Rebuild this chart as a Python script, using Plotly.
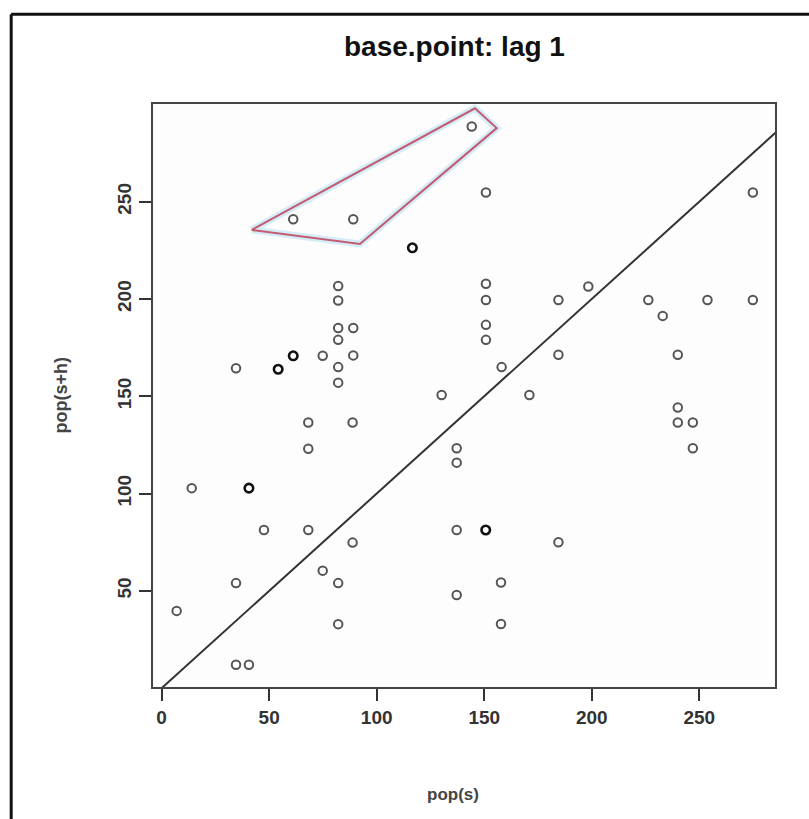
import plotly.graph_objects as go

# Data
pop_s = [144.2, 61.2, 89.1, 82.1, 82.1, 82.1, 89.1, 82.1, 74.9, 89.1,
         34.6, 82.1, 82.1, 68.2, 88.8, 130.2, 68.2, 137.2, 137.2, 14.0,
         47.6, 68.2, 137.2, 88.8, 74.9, 82.1, 34.6, 7.0, 82.1, 34.6,
         40.6, 171.0, 240.0, 240.0, 247.0, 247.0, 184.5, 157.8, 157.8, 137.2,
         150.8, 274.9, 150.8, 150.8, 184.5, 198.4, 226.3, 233.0, 253.8, 274.9,
         150.8, 150.8, 184.5, 240.0, 158.1]
pop_sh = [288.6, 241.0, 241.0, 206.7, 199.2, 185.1, 185.1, 179.0, 170.8, 171.0,
          164.4, 165.0, 157.0, 136.5, 136.5, 150.7, 123.0, 123.3, 115.9, 102.8,
          81.3, 81.3, 81.3, 74.8, 60.4, 54.0, 54.0, 39.7, 32.9, 12.0,
          12.0, 150.7, 144.2, 136.5, 136.5, 123.3, 75.0, 54.3, 33.0, 47.9,
          254.7, 254.7, 207.8, 199.5, 199.5, 206.4, 199.5, 191.3, 199.5, 199.5,
          186.7, 179.0, 171.3, 171.3, 165.0]
# darker (overplotted) points
dark_s = [116.6, 61.2, 54.2, 40.6, 150.7]
dark_sh = [226.3, 170.8, 163.9, 102.8, 81.3]

# highlighted region (polygon drawn on the picture)
poly_s = [41.9, 145.7, 155.8, 92.2, 41.9]
poly_sh = [235.5, 298.0, 287.8, 228.3, 235.5]

# identity reference line
ref_line = [-10, 300]

x_ticks = [0, 50, 100, 150, 200, 250]
y_ticks = [50, 100, 150, 200, 250]

FONT = "Liberation Sans, Arial, sans-serif"

fig = go.Figure()
fig.add_trace(go.Scatter(x=ref_line, y=ref_line, mode="lines",
                         line=dict(color="#333333", width=2), hoverinfo="skip"))
fig.add_trace(go.Scatter(x=pop_s, y=pop_sh, mode="markers",
                         marker=dict(symbol="circle-open", size=8.5,
                                     line=dict(color="#555555", width=2),
                                     color="#555555")))
fig.add_trace(go.Scatter(x=dark_s, y=dark_sh, mode="markers",
                         marker=dict(symbol="circle-open", size=8.5,
                                     line=dict(color="#111111", width=2.6),
                                     color="#111111")))
fig.add_trace(go.Scatter(x=poly_s, y=poly_sh, mode="lines",
                         line=dict(color="rgba(170,220,240,0.5)", width=7),
                         hoverinfo="skip"))
fig.add_trace(go.Scatter(x=poly_s, y=poly_sh, mode="lines",
                         line=dict(color="#c45a72", width=2), hoverinfo="skip"))

axis_font = dict(family=FONT, size=19, color="#333333", weight="bold")

fig.update_layout(
    width=809, height=819,
    margin=dict(l=153, r=34, t=104, b=132),
    paper_bgcolor="white", plot_bgcolor="#fdfdfd",
    showlegend=False,
    xaxis=dict(range=[-4.0, 285.2], tickvals=x_ticks, ticks="outside",
               ticklen=12, tickwidth=2, tickcolor="#333333",
               showline=True, linewidth=2, linecolor="#444444", mirror=True,
               showgrid=False, zeroline=False, tickfont=axis_font),
    yaxis=dict(range=[0.6, 300.2], tickvals=y_ticks, ticks="outside",
               ticklen=12, tickwidth=2, tickcolor="#333333", tickangle=-90,
               showline=True, linewidth=2, linecolor="#444444", mirror=True,
               showgrid=False, zeroline=False, tickfont=axis_font),
    annotations=[
        dict(text="base.point: lag 1", xref="paper", yref="paper",
             x=0.4855, y=1.098, xanchor="center", yanchor="middle",
             showarrow=False,
             font=dict(family=FONT, size=28, color="#111111", weight="bold")),
        dict(text="pop(s)", xref="paper", yref="paper",
             x=0.482, y=-0.185, xanchor="center", yanchor="middle",
             showarrow=False,
             font=dict(family=FONT, size=17, color="#444444", weight="bold")),
        dict(text="pop(s+h)", xref="paper", yref="paper",
             x=-0.1495, y=0.5, xanchor="center", yanchor="middle",
             showarrow=False, textangle=-90,
             font=dict(family=FONT, size=18, color="#444444", weight="bold")),
    ],
    shapes=[
        dict(type="line", xref="paper", yref="paper",
             x0=-0.228, x1=-0.228, y0=-0.3, y1=1.154,
             line=dict(color="#111111", width=3)),
        dict(type="line", xref="paper", yref="paper",
             x0=-0.228, x1=1.1, y0=1.154, y1=1.154,
             line=dict(color="#111111", width=3)),
    ],
)

fig.write_html("out.html")
